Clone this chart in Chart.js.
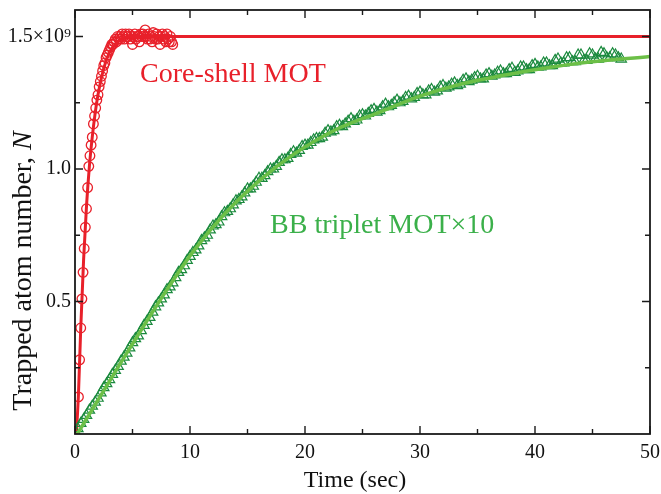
<!DOCTYPE html>
<html>
<head>
<meta charset="utf-8">
<script src="https://cdn.jsdelivr.net/npm/chart.js@4.4.1/dist/chart.umd.min.js"></script>
<style>
  body { margin: 0; background: #fff; }
  #myChart { display: block; }
</style>
</head>
<body>
<canvas id="myChart" width="661" height="494"></canvas>
<script>
// atom numbers in units of 1e9

// core-shell MOT loading (red circles)
const redTime = [0.3, 0.4, 0.5, 0.6, 0.7, 0.8, 0.9, 1.0, 1.1, 1.2, 1.3, 1.4, 1.5, 1.6, 1.7, 1.8, 1.9, 2.0,
  2.1, 2.2, 2.3, 2.4, 2.5, 2.6, 2.7, 2.8, 2.9, 3.0, 3.1, 3.2, 3.3, 3.4, 3.5, 3.6, 3.7, 3.8, 3.9, 4.0,
  4.1, 4.2, 4.3, 4.4, 4.5, 4.6, 4.7, 4.8, 4.9, 5.0, 5.1, 5.2, 5.3, 5.4, 5.5, 5.6, 5.7, 5.8, 5.9, 6.0,
  6.1, 6.2, 6.3, 6.4, 6.5, 6.6, 6.7, 6.8, 6.9, 7.0, 7.1, 7.2, 7.3, 7.4, 7.5, 7.6, 7.7, 7.8, 7.9, 8.0,
  8.1, 8.2, 8.3, 8.4, 8.5];
const redAtoms = [0.14, 0.28, 0.40, 0.51, 0.61, 0.70, 0.78, 0.85, 0.93, 1.01, 1.05, 1.09, 1.12, 1.17, 1.20, 1.23, 1.26, 1.28,
  1.31, 1.33, 1.35, 1.37, 1.39, 1.40, 1.42, 1.43, 1.44, 1.45, 1.46, 1.47, 1.47, 1.48, 1.49, 1.48, 1.50, 1.49, 1.50, 1.49,
  1.51, 1.50, 1.49, 1.51, 1.50, 1.50, 1.51, 1.49, 1.50, 1.47, 1.50, 1.51, 1.49, 1.50, 1.50, 1.48, 1.51, 1.50, 1.51, 1.50,
  1.525, 1.50, 1.49, 1.51, 1.49, 1.50, 1.48, 1.515, 1.50, 1.49, 1.51, 1.49, 1.50, 1.47, 1.50, 1.51, 1.49, 1.50, 1.48, 1.51,
  1.49, 1.48, 1.50, 1.48, 1.47];

// core-shell fit curve
const redFitTime = [0.12, 0.3, 0.5, 0.75, 1.0, 1.25, 1.5, 1.75, 2.0, 2.5, 3.0, 3.5, 4.0, 5.0, 6.0, 50];
const redFitAtoms = [0, 0.15, 0.40, 0.66, 0.86, 1.01, 1.12, 1.21, 1.28, 1.38, 1.44, 1.47, 1.49, 1.50, 1.50, 1.50];

// BB triplet MOT x10 (green triangles), one row per 5 s
const greenTime = [
  0, 0.25, 0.5, 0.75, 1, 1.25, 1.5, 1.75, 2, 2.25, 2.5, 2.75, 3, 3.25, 3.5, 3.75, 4, 4.25, 4.5, 4.75,
  5, 5.25, 5.5, 5.75, 6, 6.25, 6.5, 6.75, 7, 7.25, 7.5, 7.75, 8, 8.25, 8.5, 8.75, 9, 9.25, 9.5, 9.75,
  10, 10.25, 10.5, 10.75, 11, 11.25, 11.5, 11.75, 12, 12.25, 12.5, 12.75, 13, 13.25, 13.5, 13.75, 14, 14.25, 14.5, 14.75,
  15, 15.25, 15.5, 15.75, 16, 16.25, 16.5, 16.75, 17, 17.25, 17.5, 17.75, 18, 18.25, 18.5, 18.75, 19, 19.25, 19.5, 19.75,
  20, 20.25, 20.5, 20.75, 21, 21.25, 21.5, 21.75, 22, 22.25, 22.5, 22.75, 23, 23.25, 23.5, 23.75, 24, 24.25, 24.5, 24.75,
  25, 25.25, 25.5, 25.75, 26, 26.25, 26.5, 26.75, 27, 27.25, 27.5, 27.75, 28, 28.25, 28.5, 28.75, 29, 29.25, 29.5, 29.75,
  30, 30.25, 30.5, 30.75, 31, 31.25, 31.5, 31.75, 32, 32.25, 32.5, 32.75, 33, 33.25, 33.5, 33.75, 34, 34.25, 34.5, 34.75,
  35, 35.25, 35.5, 35.75, 36, 36.25, 36.5, 36.75, 37, 37.25, 37.5, 37.75, 38, 38.25, 38.5, 38.75, 39, 39.25, 39.5, 39.75,
  40, 40.25, 40.5, 40.75, 41, 41.25, 41.5, 41.75, 42, 42.25, 42.5, 42.75, 43, 43.25, 43.5, 43.75, 44, 44.25, 44.5, 44.75,
  45, 45.25, 45.5, 45.75, 46, 46.25, 46.5, 46.75, 47, 47.25, 47.5];
const greenAtoms = [
  0.01, 0.02, 0.04, 0.055, 0.07, 0.09, 0.105, 0.12, 0.135, 0.155, 0.175, 0.19, 0.205, 0.225, 0.24, 0.255, 0.275, 0.29, 0.305, 0.325,
  0.345, 0.36, 0.37, 0.39, 0.41, 0.425, 0.44, 0.46, 0.48, 0.495, 0.51, 0.525, 0.545, 0.555, 0.57, 0.59, 0.61, 0.62, 0.635, 0.655,
  0.67, 0.685, 0.695, 0.71, 0.73, 0.74, 0.75, 0.77, 0.785, 0.79, 0.80, 0.82, 0.835, 0.84, 0.85, 0.865, 0.88, 0.885, 0.895, 0.91,
  0.925, 0.925, 0.935, 0.95, 0.965, 0.965, 0.975, 0.99, 1.0, 1.0, 1.01, 1.025, 1.035, 1.035, 1.04, 1.055, 1.065, 1.06, 1.07, 1.085,
  1.09, 1.09, 1.10, 1.11, 1.115, 1.115, 1.12, 1.135, 1.145, 1.14, 1.145, 1.16, 1.165, 1.16, 1.17, 1.18, 1.19, 1.18, 1.185, 1.20,
  1.205, 1.20, 1.21, 1.22, 1.225, 1.215, 1.22, 1.235, 1.245, 1.235, 1.24, 1.25, 1.26, 1.25, 1.255, 1.27, 1.275, 1.265, 1.27, 1.285,
  1.29, 1.28, 1.28, 1.295, 1.30, 1.29, 1.295, 1.31, 1.315, 1.305, 1.31, 1.32, 1.325, 1.315, 1.32, 1.335, 1.34, 1.33, 1.335, 1.345,
  1.35, 1.34, 1.34, 1.355, 1.36, 1.35, 1.355, 1.365, 1.37, 1.36, 1.36, 1.375, 1.38, 1.365, 1.37, 1.385, 1.385, 1.375, 1.375, 1.39,
  1.395, 1.385, 1.385, 1.40, 1.40, 1.39, 1.39, 1.41, 1.415, 1.40, 1.40, 1.42, 1.42, 1.405, 1.405, 1.43, 1.43, 1.41, 1.41, 1.435,
  1.43, 1.415, 1.415, 1.44, 1.435, 1.42, 1.42, 1.435, 1.43, 1.42, 1.415];

// BB triplet fit curve
const greenFitTime = [0.2, 4, 7.4, 10.3, 13, 16, 19, 22.75, 26.5, 30, 33.5, 38.7, 44, 50];
const greenFitAtoms = [0, 0.27, 0.505, 0.69, 0.83, 0.955, 1.055, 1.15, 1.215, 1.275, 1.32, 1.365, 1.40, 1.425];

// axes
const xMajorTicks = [0, 10, 20, 30, 40, 50];
const xMinorTicks = [5, 15, 25, 35, 45];
const yMajorTicks = [0.5, 1.0, 1.5];
const yMinorTicks = [0.25, 0.75, 1.25];
const yTickLabels = ['0.5', '1.0', '1.5×10⁹'];

const RED = '#e8202a';
const DARK_GREEN = '#1b8a3e';
const LIGHT_GREEN = '#6cbf47';
const TEXT_GREEN = '#3bb04a';
const SERIF = '"Liberation Serif", "Times New Roman", serif';

function pairs(xs, ys) {
    return xs.map((x, i) => ({ x: x, y: ys[i] }));
}

const framePlugin = {
    id: 'frame',
    afterDraw(chart) {
        const ctx = chart.ctx;
        const { left, right, top, bottom } = chart.chartArea;
        const xs = chart.scales.x;
        const ys = chart.scales.y;
        ctx.save();
        ctx.strokeStyle = '#1a1a1a';
        ctx.lineWidth = 1.8;
        ctx.strokeRect(left, top, right - left, bottom - top);

        ctx.lineWidth = 1.4;
        ctx.beginPath();
        const xTick = (v, len) => {
            const px = xs.getPixelForValue(v);
            ctx.moveTo(px, bottom); ctx.lineTo(px, bottom - len);
            ctx.moveTo(px, top); ctx.lineTo(px, top + len);
        };
        const yTick = (v, len) => {
            const py = ys.getPixelForValue(v);
            ctx.moveTo(left, py); ctx.lineTo(left + len, py);
            ctx.moveTo(right, py); ctx.lineTo(right - len, py);
        };
        xMajorTicks.forEach(v => xTick(v, 8));
        xMinorTicks.forEach(v => xTick(v, 5));
        yMajorTicks.forEach(v => yTick(v, 8));
        yMinorTicks.forEach(v => yTick(v, 5));
        ctx.stroke();

        // axis titles
        ctx.fillStyle = '#111';
        ctx.textBaseline = 'alphabetic';
        ctx.font = '24px ' + SERIF;
        ctx.textAlign = 'center';
        ctx.fillText('Time (sec)', 355, 487);

        ctx.save();
        ctx.translate(31, 271);
        ctx.rotate(-Math.PI / 2);
        const part1 = 'Trapped atom number, ';
        ctx.font = '28px ' + SERIF;
        const w1 = ctx.measureText(part1).width;
        ctx.font = 'italic 28px ' + SERIF;
        const w2 = ctx.measureText('N').width;
        const start = -(w1 + w2) / 2;
        ctx.textAlign = 'left';
        ctx.font = '28px ' + SERIF;
        ctx.fillText(part1, start, 0);
        ctx.font = 'italic 28px ' + SERIF;
        ctx.fillText('N', start + w1, 0);
        ctx.restore();

        // series labels
        ctx.textAlign = 'left';
        ctx.font = '28px ' + SERIF;
        ctx.fillStyle = RED;
        ctx.fillText('Core-shell MOT', xs.getPixelForValue(5.65), ys.getPixelForValue(1.33));
        ctx.fillStyle = TEXT_GREEN;
        ctx.fillText('BB triplet MOT×10', xs.getPixelForValue(16.96), ys.getPixelForValue(0.758));
        ctx.restore();
    }
};

const ctx = document.getElementById('myChart').getContext('2d');
new Chart(ctx, {
    type: 'scatter',
    data: {
        datasets: [
            {
                label: 'Core-shell MOT',
                data: pairs(redTime, redAtoms),
                pointStyle: 'circle',
                pointRadius: 4.8,
                pointBorderWidth: 1.3,
                pointBorderColor: RED,
                pointBackgroundColor: 'rgba(0,0,0,0)',
                showLine: false,
                order: 3
            },
            {
                type: 'line',
                label: 'Core-shell fit',
                data: pairs(redFitTime, redFitAtoms),
                borderColor: RED,
                borderWidth: 3,
                pointRadius: 0,
                cubicInterpolationMode: 'monotone',
                fill: false,
                order: 2
            },
            {
                label: 'BB triplet MOT×10',
                data: pairs(greenTime, greenAtoms),
                pointStyle: 'triangle',
                pointRadius: 6,
                pointBorderWidth: 1.2,
                pointBorderColor: DARK_GREEN,
                pointBackgroundColor: 'rgba(0,0,0,0)',
                showLine: false,
                order: 1
            },
            {
                type: 'line',
                label: 'BB triplet fit',
                data: pairs(greenFitTime, greenFitAtoms),
                borderColor: LIGHT_GREEN,
                borderWidth: 3.5,
                pointRadius: 0,
                cubicInterpolationMode: 'monotone',
                fill: false,
                order: 0
            }
        ]
    },
    options: {
        responsive: false,
        animation: false,
        devicePixelRatio: 1,
        layout: { padding: { top: 10, right: 11, left: 0, bottom: 0 } },
        plugins: {
            legend: { display: false },
            tooltip: { enabled: false }
        },
        scales: {
            x: {
                type: 'linear',
                position: 'bottom',
                min: 0,
                max: 50,
                border: { display: false },
                grid: { display: false, drawTicks: false },
                ticks: {
                    stepSize: 10,
                    padding: 7,
                    color: '#111',
                    font: { family: SERIF, size: 20 },
                    maxRotation: 0
                },
                afterFit: s => { s.height = 60; s.paddingLeft = 0; s.paddingRight = 0; }
            },
            y: {
                type: 'linear',
                min: 0,
                max: 1.6,
                border: { display: false },
                grid: { display: false, drawTicks: false },
                afterBuildTicks: s => { s.ticks = yMajorTicks.map(v => ({ value: v })); },
                ticks: {
                    padding: 4,
                    color: '#111',
                    font: { family: SERIF, size: 20 },
                    callback: (v, i) => yTickLabels[i]
                },
                afterFit: s => { s.width = 75; s.paddingTop = 0; s.paddingBottom = 0; }
            }
        }
    },
    plugins: [framePlugin]
});
</script>
</body>
</html>
